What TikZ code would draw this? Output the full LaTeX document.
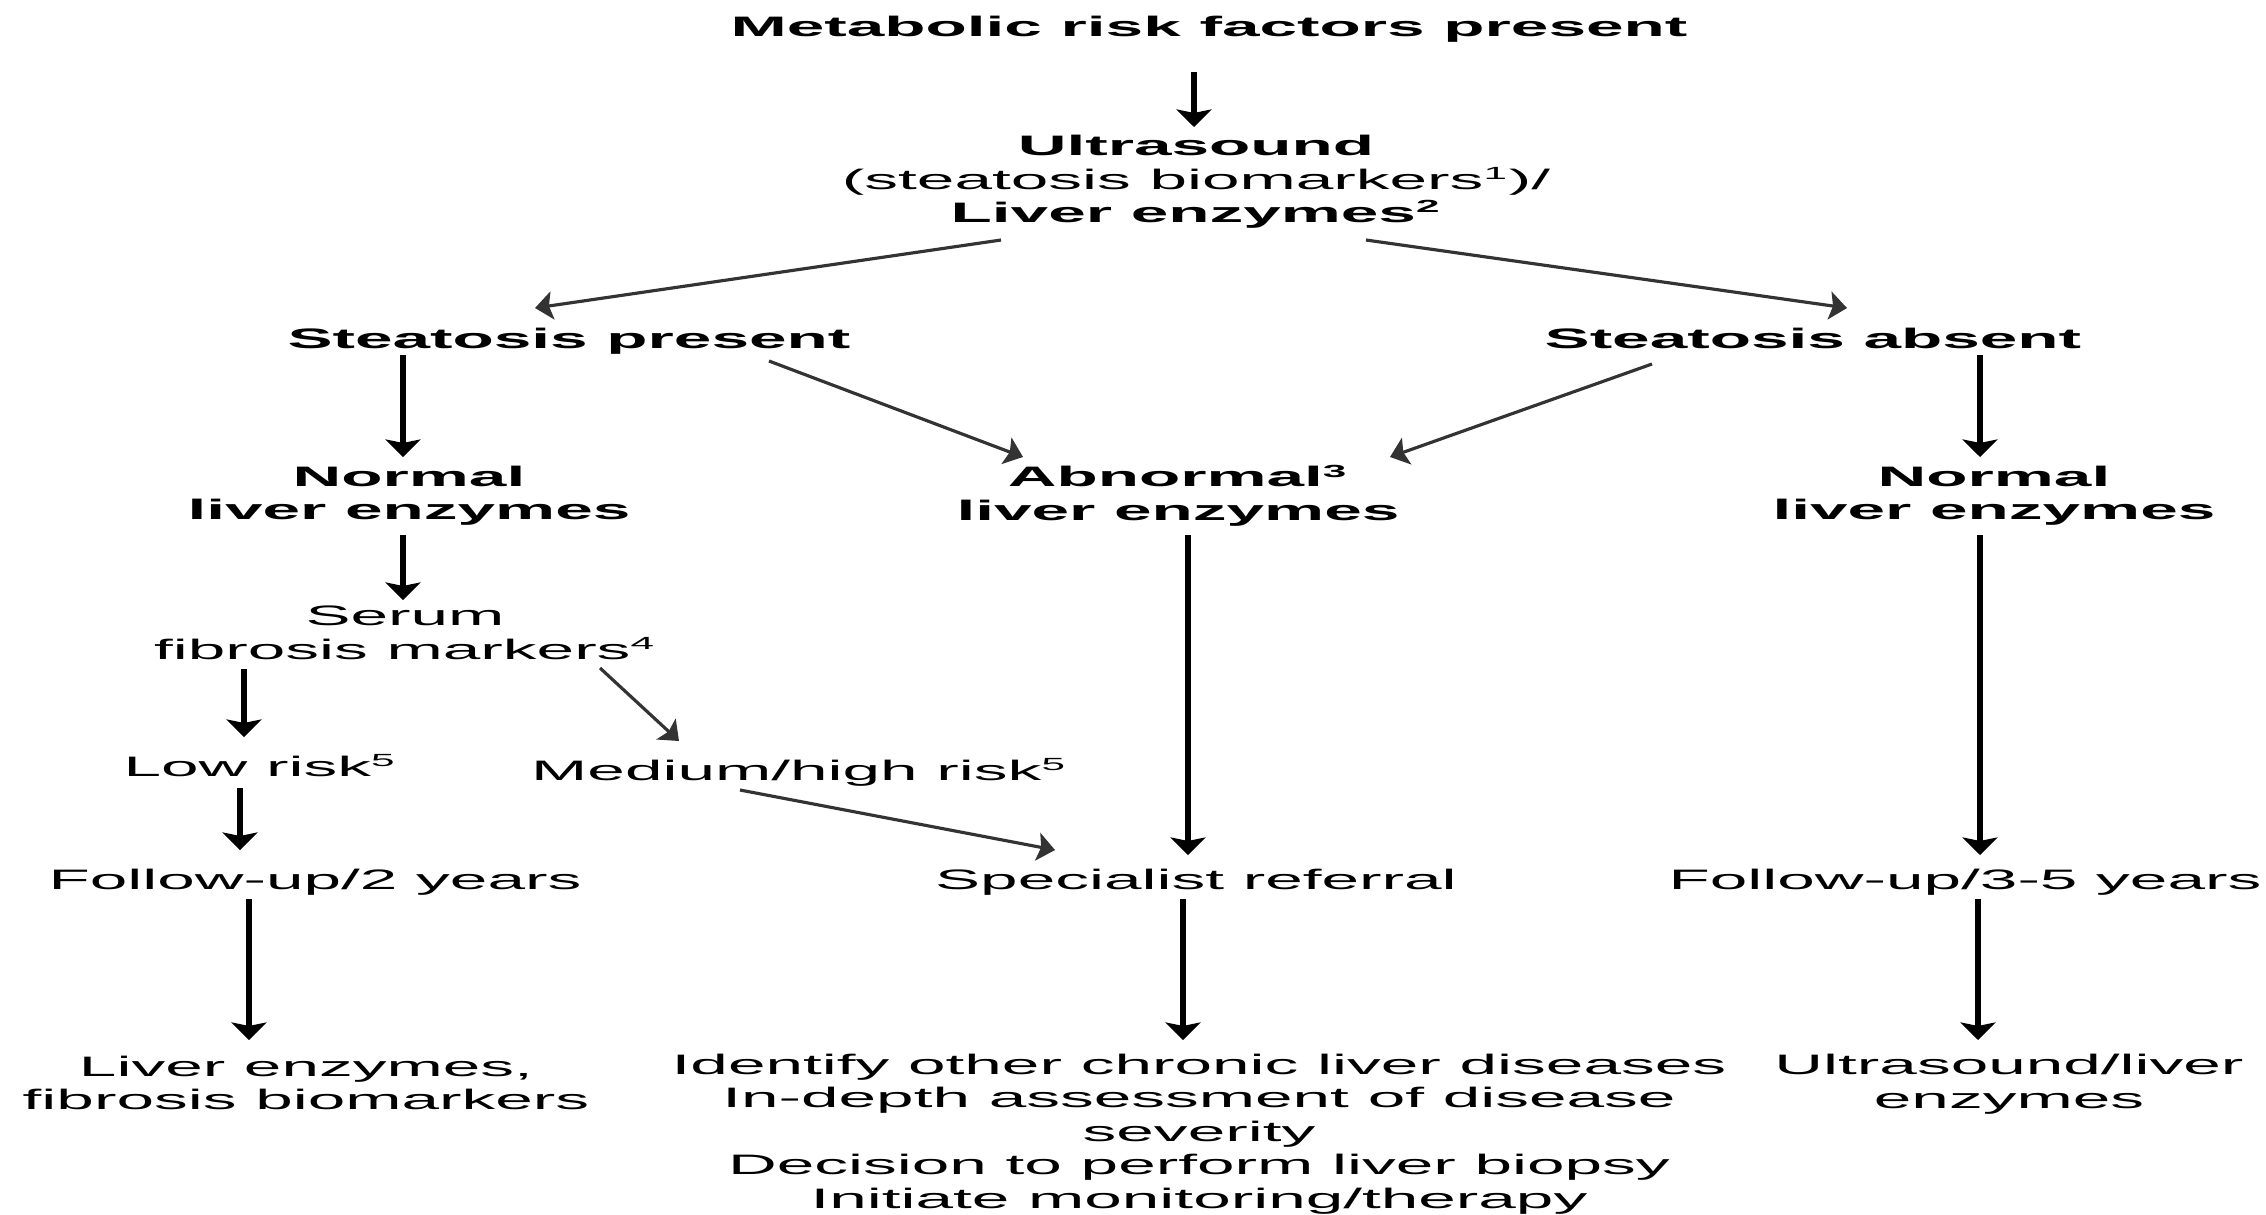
\documentclass[tikz,border=0pt]{standalone}
\usepackage{fontspec}
\newfontfamily\flowfont[FakeStretch=2.4]{Liberation Sans}
\usetikzlibrary{arrows.meta,calc}

\newcommand{\fnmark}[1]{\textsuperscript{\fontsize{5}{5}\selectfont #1}}

\tikzset{
  txt/.style={inner sep=0pt, align=center, font=\flowfont\fontsize{8}{9.53}\selectfont},
  btxt/.style={txt, font=\flowfont\bfseries\fontsize{8}{9.53}\selectfont},
  vline/.style={line width=1.6pt, -{Stealth[length=5pt,width=10pt,inset=1pt]}},
  dline/.style={line width=0.9pt, draw=black!80, -{Stealth[length=5pt,width=8pt,inset=1pt]}}
}

\begin{document}
\begin{tikzpicture}[x=0.01cm, y=-0.01cm]
  \useasboundingbox (0,0) rectangle (2266,1214);

  % top of the chart
  \node[btxt] (risk) at (1209,29) {Metabolic risk factors present};
  \node[txt] (us) at (1196,182) {\textbf{Ultrasound}\\(steatosis biomarkers\fnmark{1})/\\\textbf{Liver enzymes\fnmark{2}}};
  \node[btxt] (sp) at (569,341) {Steatosis present};
  \node[btxt] (sa) at (1813,338) {Steatosis absent};

  % liver enzymes row
  \node[btxt] (nleL) at (409,495.5) {Normal\\liver enzymes};
  \node[btxt] (ale) at (1178,495.5) {Abnormal\fnmark{3}\\liver enzymes};
  \node[btxt] (nleR) at (1994,495.5) {Normal\\liver enzymes};

  % fibrosis branch
  \node[txt] (sfm) at (405,633) {Serum\\fibrosis markers\fnmark{4}};
  \node[txt] (low) at (260,766) {Low risk\fnmark{5}};
  \node[txt] (med) at (799,772) {Medium/high risk\fnmark{5}};

  % follow-up row
  \node[txt] (fu2) at (315,882) {Follow-up/2 years};
  \node[txt] (ref) at (1196,882) {Specialist referral};
  \node[txt] (fu35) at (1965,882) {Follow-up/3-5 years};

  % bottom row
  \node[txt] (le) at (306,1083) {Liver enzymes,\\fibrosis biomarkers};
  \node[txt] (spec) at (1199,1134) {Identify other chronic liver diseases\\In-depth assessment of disease\\severity\\Decision to perform liver biopsy\\Initiate monitoring/therapy};
  \node[txt] (usle) at (2009,1084) {Ultrasound/liver\\enzymes};

  % arrows
  \draw[vline] ($(risk)+(-15,43)$) -- ($(us)+(-2,-55)$);
  \draw[dline] ($(us)+(-195,58)$) -- ($(sp)+(-34,-33)$);
  \draw[dline] ($(us)+(170,58)$) -- ($(sa)+(34,-30)$);
  \draw[vline] ($(sp)+(-166,14)$) -- ($(nleL)+(-6,-38.5)$);
  \draw[dline] ($(sp)+(200,20)$) -- ($(ale)+(-155,-38.5)$);
  \draw[dline] ($(sa)+(-161,26)$) -- ($(ale)+(212,-38.5)$);
  \draw[vline] ($(sa)+(167,17)$) -- ($(nleR)+(-14,-38.5)$);
  \draw[vline] ($(nleL)+(-6,39.5)$) -- ($(sfm)+(-2,-33)$);
  \draw[vline] ($(ale)+(10,39.5)$) -- ($(ref)+(-8,-27)$);
  \draw[vline] ($(nleR)+(-14,39.5)$) -- ($(fu35)+(15,-27)$);
  \draw[vline] ($(sfm)+(-161,36)$) -- ($(low)+(-16,-29)$);
  \draw[dline] ($(sfm)+(195,35)$) -- ($(med)+(-120,-31)$);
  \draw[vline] ($(low)+(-20,22)$) -- ($(fu2)+(-75,-32)$);
  \draw[dline] ($(med)+(-59,18)$) -- ($(ref)+(-141,-32)$);
  \draw[vline] ($(fu2)+(-66,17)$) -- ($(le)+(-57,-43)$);
  \draw[vline] ($(ref)+(-13,17)$) -- ($(spec)+(-16,-94)$);
  \draw[vline] ($(fu35)+(13,17)$) -- ($(usle)+(-31,-44)$);
\end{tikzpicture}
\end{document}
